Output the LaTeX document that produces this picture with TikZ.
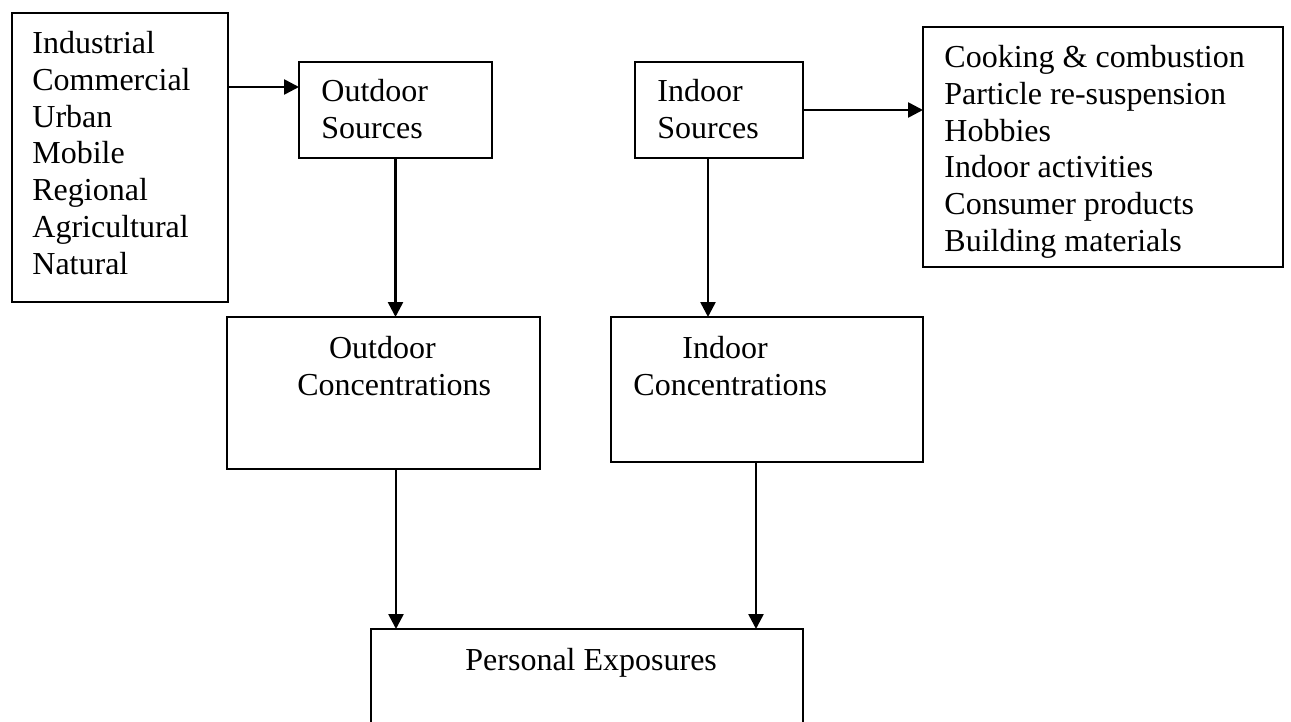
\documentclass[tikz,border=0pt]{standalone}
\usepackage{fontspec}
\setmainfont{Liberation Serif}
\usetikzlibrary{arrows.meta}
\begin{document}
\begin{tikzpicture}[x=0.5pt,y=-0.5pt,
  box/.style={draw, line width=0.7pt, inner sep=0pt, outer sep=0pt, anchor=north west},
  txt/.style={inner sep=0pt, anchor=north west, align=left, yshift=12.88pt,
    font=\fontsize{16pt}{18.4pt}\selectfont},
  flow/.style={line width=1.3pt, -{Triangle[length=7.5pt,width=7.5pt]}}]
\useasboundingbox (0,0) rectangle (1291,722);
\clip (0,0) rectangle (1291,722);

% boxes
\node[box, minimum width=108pt, minimum height=144.5pt] (srcL) at (12,13) {};
\node[box, minimum width=96.5pt, minimum height=48pt] (outsrc) at (299,62) {};
\node[box, minimum width=84pt, minimum height=48pt] (insrc) at (635,62) {};
\node[box, minimum width=180pt, minimum height=120pt] (listR) at (923,27) {};
\node[box, minimum width=156.5pt, minimum height=76pt] (outconc) at (227,317) {};
\node[box, minimum width=156pt, minimum height=72.5pt] (inconc) at (611,317) {};
\node[box, minimum width=216pt, minimum height=75pt] (personal) at (371,629) {};

% texts
\node[txt] (tL) at (32,53) {\strut Industrial\\Commercial\\Urban\\Mobile\\Regional\\Agricultural\\Natural};
\node[txt] (tR) at (944,67) {\strut Cooking \& combustion\\Particle re-suspension\\Hobbies\\Indoor activities\\Consumer products\\Building materials};
\node[txt] (tOS) at (321,101) {\strut Outdoor\\Sources};
\node[txt] (tIS) at (657,101) {\strut Indoor\\Sources};
\node[txt] (tOC) at (297,358) {\strut\hspace*{15.8pt}Outdoor\\Concentrations};
\node[txt] (tIC) at (633,358) {\strut\hspace*{24.5pt}Indoor\\Concentrations};
\node[txt] (tP) at (465,670) {\strut Personal Exposures};

% connector end points
\coordinate (a) at ([yshift=11.5pt]outsrc.west);
\coordinate (b) at ([xshift=-5.5pt]insrc.south);
\coordinate (c) at ([xshift=6.25pt]outconc.south);
\coordinate (d) at ([xshift=-5.5pt]inconc.south);

% connectors
\draw[flow] (srcL.east |- a) -- (a);
\draw[flow] (insrc.east) -- (insrc.east -| listR.west);
\draw[flow] (outsrc.south) -- (outsrc.south |- outconc.north);
\draw[flow] (b) -- (b |- inconc.north);
\draw[flow] (c) -- (c |- personal.north);
\draw[flow] (d) -- (d |- personal.north);
\end{tikzpicture}
\end{document}
